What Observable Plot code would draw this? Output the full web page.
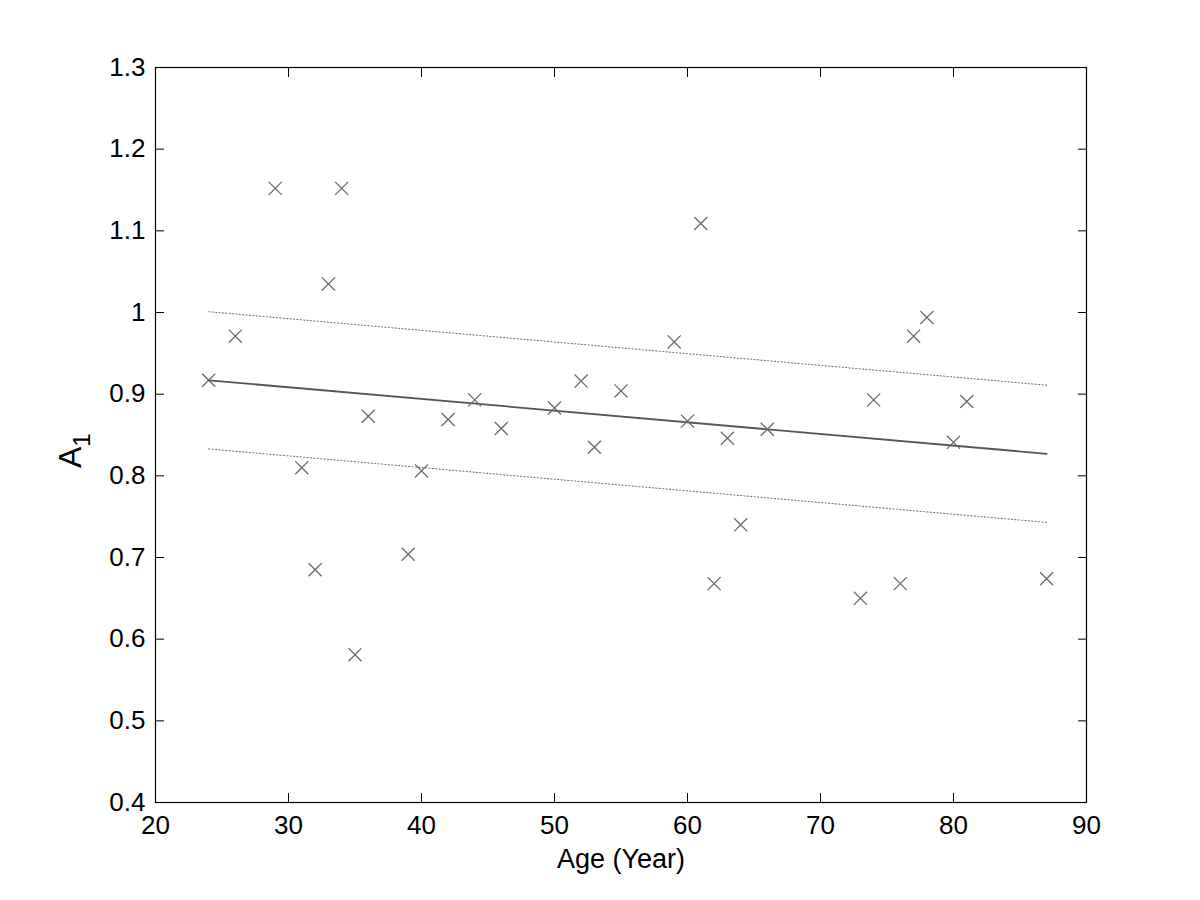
<!DOCTYPE html>
<html>
<head>
<meta charset="utf-8">
<script src="https://cdn.jsdelivr.net/npm/d3@7"></script>
<script src="https://cdn.jsdelivr.net/npm/@observablehq/plot@0.6"></script>
<style>
  html, body { margin: 0; padding: 0; background: #fff; }
  #chart svg { display: block; }
</style>
</head>
<body>
<div id="chart"></div>
<script>
// ---- data ----
const ages = [24, 26, 29, 31, 32, 33, 34, 35, 36, 39, 40, 42, 44, 46, 50, 52, 53, 55,
              59, 60, 61, 62, 63, 64, 66, 73, 74, 76, 77, 78, 80, 81, 87];
const a1Values = [0.917, 0.971, 1.152, 0.810, 0.685, 1.035, 1.152, 0.581, 0.873, 0.704, 0.806, 0.869, 0.893, 0.858, 0.883, 0.916, 0.835, 0.904,
                  0.964, 0.867, 1.109, 0.668, 0.846, 0.740, 0.857, 0.650, 0.893, 0.668, 0.971, 0.994, 0.841, 0.891, 0.674];
const fitAges  = [24, 87];
const fitMean  = [0.917, 0.827];
const fitUpper = [1.001, 0.911];
const fitLower = [0.833, 0.743];
const xTicks = [20, 30, 40, 50, 60, 70, 80, 90];
const yTicks = [0.4, 0.5, 0.6, 0.7, 0.8, 0.9, 1, 1.1, 1.2, 1.3];
const xTitle = "Age (Year)";
const yTitle = "A1";

const points = ages.map((age, i) => ({age, value: a1Values[i]}));
const fit = fitAges.map((age, i) => ({age, mean: fitMean[i], upper: fitUpper[i], lower: fitLower[i]}));

const fmt = d => String(d);

const chart = Plot.plot({
  width: 1200,
  height: 900,
  marginLeft: 155,
  marginRight: 114,
  marginTop: 67,
  marginBottom: 98,
  style: {fontFamily: "'Liberation Sans', Arial, Helvetica, sans-serif", fontSize: "26px", color: "#000", background: "#fff"},
  x: {domain: [20, 90]},
  y: {domain: [0.4, 1.3]},
  marks: [
    Plot.frame({stroke: "#000", strokeWidth: 1.2}),
    Plot.axisX({ticks: xTicks, anchor: "bottom", tickSize: -9, tickPadding: 22, tickFormat: fmt, label: null, stroke: "#000", fontSize: 26}),
    Plot.axisX({ticks: xTicks, anchor: "top", tickSize: -9, tickFormat: () => "", label: null, stroke: "#000"}),
    Plot.axisY({ticks: yTicks, anchor: "left", tickSize: -9, tickPadding: 19, tickFormat: fmt, label: null, stroke: "#000", fontSize: 26}),
    Plot.axisY({ticks: yTicks, anchor: "right", tickSize: -9, tickFormat: () => "", label: null, stroke: "#000"}),
    Plot.line(fit, {x: "age", y: "upper", stroke: "#7a7a7a", strokeWidth: 1.1, strokeDasharray: "1.2,2.2"}),
    Plot.line(fit, {x: "age", y: "lower", stroke: "#7a7a7a", strokeWidth: 1.1, strokeDasharray: "1.2,2.2"}),
    Plot.line(fit, {x: "age", y: "mean", stroke: "#555", strokeWidth: 1.8}),
    Plot.dot(points, {x: "age", y: "value", symbol: "times", r: 6, stroke: "#6a6a6a", strokeWidth: 1.3}),
    Plot.text([xTitle], {frameAnchor: "bottom", dy: 57, fontSize: 27, lineAnchor: "middle", fill: "#000"}),
    Plot.text([yTitle], {frameAnchor: "left", dx: -85, dy: 33, rotate: -90, fontSize: 32, lineAnchor: "middle", fill: "#000"})
  ]
});

// render subscript in the y title
chart.querySelectorAll("text").forEach(t => {
  if (t.textContent === yTitle) {
    t.textContent = "A";
    const sub = document.createElementNS("http://www.w3.org/2000/svg", "tspan");
    sub.setAttribute("font-size", "24");
    sub.setAttribute("dy", "9");
    sub.textContent = "1";
    t.appendChild(sub);
  }
});

document.getElementById("chart").appendChild(chart);
</script>
</body>
</html>
